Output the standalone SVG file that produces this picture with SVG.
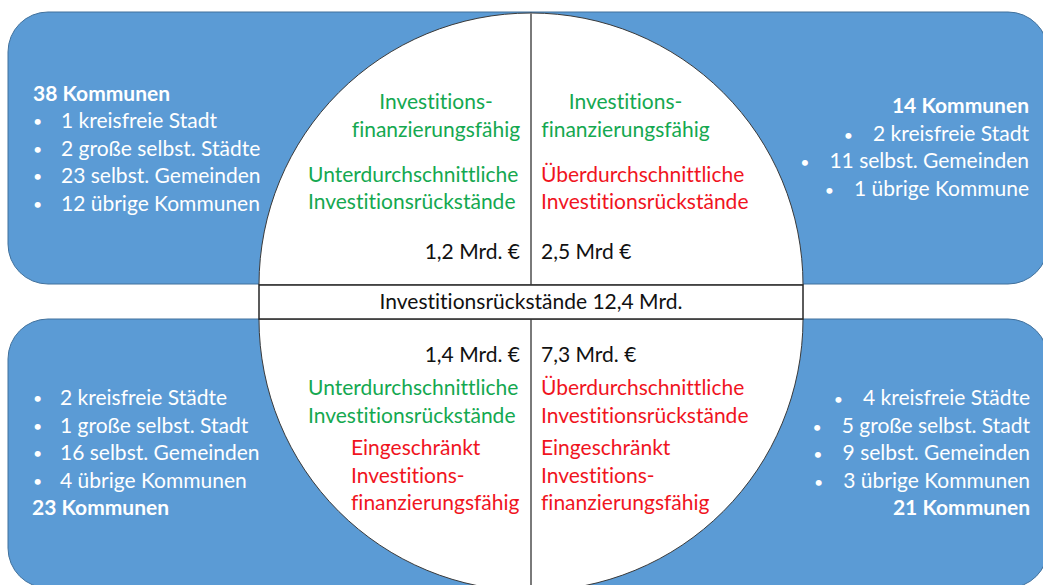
<svg xmlns="http://www.w3.org/2000/svg" width="1043" height="585" viewBox="0 0 1043 585">
  <style>
    text { font-family: Lato, "Open Sans", sans-serif; font-size: 21px; font-variant-ligatures: none; }
    .box { fill: #5B9BD5; stroke: #41719C; stroke-width: 1; }
    .w { fill: #FFFFFF; }
    .b { font-weight: bold; }
    .g { fill: #14A850; }
    .r { fill: #F0141E; }
    .k { fill: #111111; }
    .bul { font-size: 16px; }
    .half { fill: #FFFFFF; stroke: #3A3A3A; stroke-width: 1; }
    .band { fill: #FFFFFF; stroke: #262626; stroke-width: 1.5; }
    .div { stroke: #7A7A7A; stroke-width: 2; }
  </style>

  <!-- quadrant boxes: outer corners rounded, inner side hidden under the circle -->
  <g id="box-top-left">
    <path class="box" d="M531,12 H48 A40,40 0 0 0 8,52 V244 A40,40 0 0 0 48,284 H531 Z"/>
  </g>
  <g id="box-top-right">
    <path class="box" d="M531,12 H1008 A40,40 0 0 1 1048,52 V244 A40,40 0 0 1 1008,284 H531 Z"/>
  </g>
  <g id="box-bottom-left">
    <path class="box" d="M531,319 H48 A40,40 0 0 0 8,359 V548 A40,40 0 0 0 48,588 H531 Z"/>
  </g>
  <g id="box-bottom-right">
    <path class="box" d="M531,319 H1008 A40,40 0 0 1 1048,359 V548 A40,40 0 0 1 1008,588 H531 Z"/>
  </g>

  <!-- split circle with the total band in between -->
  <g id="circle">
    <path class="half" d="M259,285 A272,272 0 0 1 803,285 Z"/>
    <path class="half" d="M259,319 A272,272 0 0 0 803,319 Z"/>
  </g>
  <g id="connectors">
    <line class="div" x1="531" y1="13" x2="531" y2="285"/>
    <line class="div" x1="531" y1="319" x2="531" y2="591"/>
  </g>
  <g id="total">
    <rect class="band" x="259" y="285" width="544" height="34"/>
    <text class="k" x="531" y="309" text-anchor="middle">Investitionsrückstände 12,4 Mrd.</text>
  </g>

  <!-- top-left list -->
  <g id="list-top-left">
    <text class="w b" x="33" y="101">38 Kommunen</text>
    <text class="w bul" x="33" y="127">•</text><text class="w" x="61" y="128">1 kreisfreie Stadt</text>
    <text class="w bul" x="33" y="154.5">•</text><text class="w" x="61" y="155.5">2 große selbst. Städte</text>
    <text class="w bul" x="33" y="182">•</text><text class="w" x="61" y="183">23 selbst. Gemeinden</text>
    <text class="w bul" x="33" y="209.5">•</text><text class="w" x="61" y="210.5">12 übrige Kommunen</text>
  </g>

  <!-- top-right list -->
  <g id="list-top-right">
    <text class="w b" x="1029" y="113" text-anchor="end">14 Kommunen</text>
    <text class="w" x="1029" y="140.5" text-anchor="end"><tspan class="bul">•</tspan><tspan dx="20">2 kreisfreie Stadt</tspan></text>
    <text class="w" x="1029" y="168" text-anchor="end"><tspan class="bul">•</tspan><tspan dx="20">11 selbst. Gemeinden</tspan></text>
    <text class="w" x="1029" y="195.5" text-anchor="end"><tspan class="bul">•</tspan><tspan dx="20">1 übrige Kommune</tspan></text>
  </g>

  <!-- bottom-left list -->
  <g id="list-bottom-left">
    <text class="w bul" x="33" y="404">•</text><text class="w" x="60" y="405">2 kreisfreie Städte</text>
    <text class="w bul" x="33" y="431.5">•</text><text class="w" x="60" y="432.5">1 große selbst. Stadt</text>
    <text class="w bul" x="33" y="459">•</text><text class="w" x="60" y="460">16 selbst. Gemeinden</text>
    <text class="w bul" x="33" y="486.5">•</text><text class="w" x="60" y="487.5">4 übrige Kommunen</text>
    <text class="w b" x="32" y="515">23 Kommunen</text>
  </g>

  <!-- bottom-right list -->
  <g id="list-bottom-right">
    <text class="w" x="1030" y="405" text-anchor="end"><tspan class="bul">•</tspan><tspan dx="20">4 kreisfreie Städte</tspan></text>
    <text class="w" x="1030" y="432.5" text-anchor="end"><tspan class="bul">•</tspan><tspan dx="20">5 große selbst. Stadt</tspan></text>
    <text class="w" x="1030" y="460" text-anchor="end"><tspan class="bul">•</tspan><tspan dx="20">9 selbst. Gemeinden</tspan></text>
    <text class="w" x="1030" y="487.5" text-anchor="end"><tspan class="bul">•</tspan><tspan dx="20">3 übrige Kommunen</tspan></text>
    <text class="w b" x="1030" y="515" text-anchor="end">21 Kommunen</text>
  </g>

  <!-- quadrant labels inside the circle -->
  <g id="quadrant-top-left">
    <text class="g" x="436" y="109" text-anchor="middle">Investitions-</text>
    <text class="g" x="436" y="136.5" text-anchor="middle">finanzierungsfähig</text>
    <text class="g" x="308" y="182">Unterdurchschnittliche</text>
    <text class="g" x="308" y="208.5">Investitionsrückstände</text>
    <text class="k" x="520" y="259" text-anchor="end">1,2 Mrd. €</text>
  </g>
  <g id="quadrant-top-right">
    <text class="g" x="625.5" y="109" text-anchor="middle">Investitions-</text>
    <text class="g" x="625.5" y="136.5" text-anchor="middle">finanzierungsfähig</text>
    <text class="r" x="541" y="182">Überdurchschnittliche</text>
    <text class="r" x="541" y="208.5">Investitionsrückstände</text>
    <text class="k" x="541" y="259">2,5 Mrd €</text>
  </g>
  <g id="quadrant-bottom-left">
    <text class="k" x="520" y="362" text-anchor="end">1,4 Mrd. €</text>
    <text class="g" x="308" y="395">Unterdurchschnittliche</text>
    <text class="g" x="308" y="422.5">Investitionsrückstände</text>
    <text class="r" x="351" y="455">Eingeschränkt</text>
    <text class="r" x="351" y="482.5">Investitions-</text>
    <text class="r" x="351" y="510">finanzierungsfähig</text>
  </g>
  <g id="quadrant-bottom-right">
    <text class="k" x="541" y="362">7,3 Mrd. €</text>
    <text class="r" x="541" y="395">Überdurchschnittliche</text>
    <text class="r" x="541" y="422.5">Investitionsrückstände</text>
    <text class="r" x="541" y="455">Eingeschränkt</text>
    <text class="r" x="541" y="482.5">Investitions-</text>
    <text class="r" x="541" y="510">finanzierungsfähig</text>
  </g>
</svg>
